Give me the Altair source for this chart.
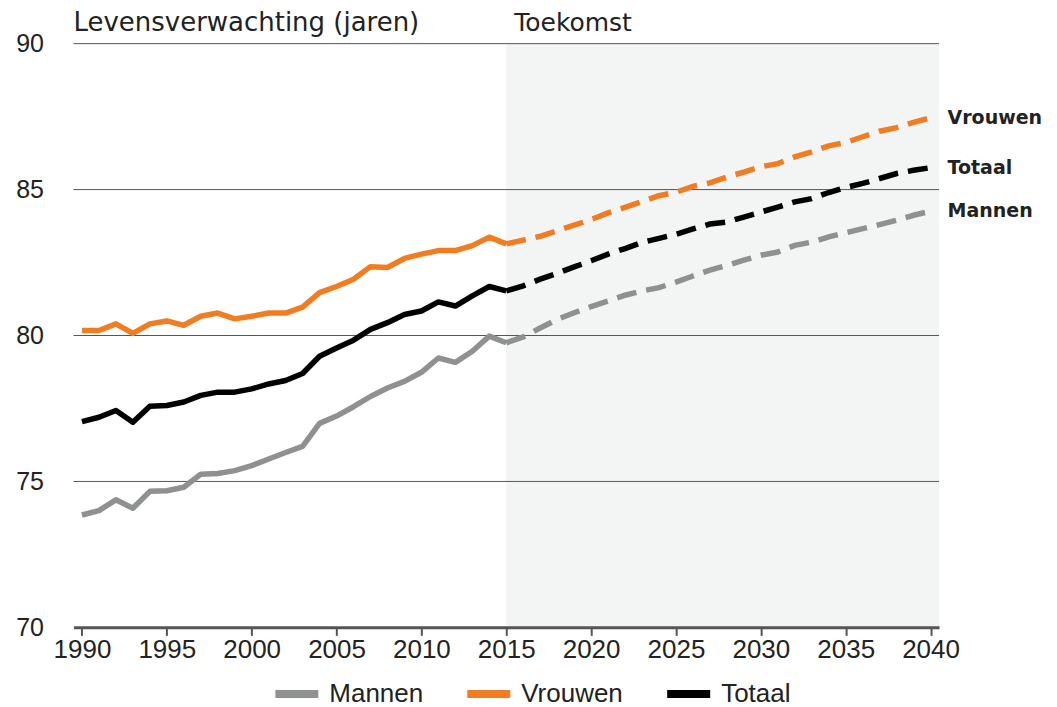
import altair as alt
import pandas as pd

years_hist = list(range(1990, 2016))
mannen_hist = [73.85, 74.0, 74.37, 74.08, 74.66, 74.68, 74.8, 75.25, 75.27, 75.37, 75.54, 75.77, 75.99, 76.2,
               76.99, 77.24, 77.56, 77.91, 78.2, 78.43, 78.74, 79.23, 79.08, 79.46, 79.98, 79.75]
vrouwen_hist = [80.17, 80.17, 80.4, 80.07, 80.4, 80.5, 80.35, 80.66, 80.77, 80.57, 80.66, 80.77, 80.77, 80.97,
                81.47, 81.68, 81.93, 82.36, 82.33, 82.64, 82.79, 82.91, 82.91, 83.08, 83.37, 83.14]
totaal_hist = [77.05, 77.2, 77.43, 77.03, 77.58, 77.6, 77.72, 77.95, 78.06, 78.06, 78.17, 78.34, 78.46, 78.7,
               79.29, 79.57, 79.84, 80.21, 80.44, 80.72, 80.84, 81.15, 81.01, 81.36, 81.68, 81.53]

years_fc = list(range(2015, 2041))
mannen_fc = [79.75, 79.95, 80.26, 80.55, 80.78, 80.99, 81.18, 81.38, 81.53, 81.64, 81.83, 82.04, 82.24,
             82.4, 82.58, 82.75, 82.86, 83.09, 83.2, 83.38, 83.52, 83.66, 83.8, 83.95, 84.12, 84.26]
vrouwen_fc = [83.14, 83.27, 83.4, 83.59, 83.78, 83.97, 84.2, 84.39, 84.59, 84.79, 84.91, 85.11, 85.23,
              85.43, 85.6, 85.78, 85.89, 86.12, 86.29, 86.5, 86.61, 86.81, 87.0, 87.12, 87.3, 87.46]
totaal_fc = [81.53, 81.7, 81.93, 82.13, 82.35, 82.56, 82.79, 82.98, 83.19, 83.33, 83.47, 83.65, 83.82,
             83.89, 84.06, 84.23, 84.4, 84.58, 84.69, 84.9, 85.07, 85.21, 85.38, 85.55, 85.66, 85.75]

series_names = ["Mannen", "Vrouwen", "Totaal"]
series_colors = ["#8f9191", "#f07d22", "#000000"]
y_ticks = [70, 75, 80, 85, 90]
x_ticks = list(range(1990, 2041, 5))
future_start, future_end = 2015, 2040.5
title_text = "Levensverwachting (jaren)"
future_text = "Toekomst"

hist_rows = []
for name, vals in zip(series_names, [mannen_hist, vrouwen_hist, totaal_hist]):
    for yr, v in zip(years_hist, vals):
        hist_rows.append({"jaar": yr, "waarde": v, "reeks": name})
hist = pd.DataFrame(hist_rows)

fc_rows = []
for name, vals in zip(series_names, [mannen_fc, vrouwen_fc, totaal_fc]):
    for yr, v in zip(years_fc, vals):
        fc_rows.append({"jaar": yr, "waarde": v, "reeks": name})
fc = pd.DataFrame(fc_rows)

ends = fc[fc["jaar"] == 2040]
shade = pd.DataFrame({"start": [future_start], "end": [future_end]})
grid = pd.DataFrame({"y": y_ticks[1:]})

W, H = 866, 584
FONT = "Liberation Sans"
TFONT = "DejaVu Sans"

xscale = alt.Scale(domain=[1989.5, 2040.5], nice=False, zero=False)
yscale = alt.Scale(domain=[70, 90], nice=False, zero=False)
cscale = alt.Scale(domain=series_names, range=series_colors)

xaxis = alt.Axis(values=x_ticks, format="d", title=None, grid=False, domainColor="#555555",
                 domainWidth=3, tickColor="#555555", tickWidth=2, tickSize=8, labelFont=FONT,
                 labelFontSize=26, labelColor="#222222", labelPadding=1, zindex=1)
yaxis = alt.Axis(values=y_ticks, title=None, grid=False, domain=False, ticks=False, labelFont=FONT,
                 labelFontSize=25, labelColor="#222222", labelPadding=30)

bg = alt.Chart(shade).mark_rect(color="#f3f4f4").encode(
    x=alt.X("start:Q", scale=xscale, axis=xaxis),
    x2="end:Q",
    y=alt.value(0),
    y2=alt.value(H),
)

gridlines = alt.Chart(grid).mark_rule(color="#555555", strokeWidth=1).encode(
    y=alt.Y("y:Q", scale=yscale, axis=yaxis)
)

hist_line = alt.Chart(hist).mark_line(strokeWidth=5.5, strokeJoin="round").encode(
    x=alt.X("jaar:Q", scale=xscale, axis=xaxis),
    y=alt.Y("waarde:Q", scale=yscale, axis=yaxis),
    color=alt.Color("reeks:N", scale=cscale, sort=series_names,
                    legend=alt.Legend(title=None, orient="none", direction="horizontal",
                                      legendX=198, legendY=625, symbolType="stroke",
                                      symbolSize=1849, symbolStrokeWidth=8, labelFont=FONT,
                                      labelFontSize=26, labelColor="#222222", labelOffset=7,
                                      columnPadding=28)),
)

fc_line = alt.Chart(fc).mark_line(strokeWidth=5.5, strokeDash=[20, 10]).encode(
    x=alt.X("jaar:Q", scale=xscale),
    y=alt.Y("waarde:Q", scale=yscale),
    color=alt.Color("reeks:N", scale=cscale, sort=series_names, legend=None),
)

end_labels = alt.Chart(ends).mark_text(align="left", baseline="middle", dx=17, font=TFONT,
                                       fontSize=19, fontWeight="bold", color="#222222").encode(
    x=alt.X("jaar:Q", scale=xscale),
    y=alt.Y("waarde:Q", scale=yscale),
    text="reeks:N",
)

toekomst = alt.Chart(shade).mark_text(align="left", baseline="alphabetic", dx=8, font=TFONT,
                                      fontSize=25, color="#222222").encode(
    x=alt.X("start:Q", scale=xscale),
    y=alt.value(-13),
    text=alt.value(future_text),
)

title = alt.Chart(shade).mark_text(align="left", baseline="alphabetic", font=TFONT,
                                   fontSize=26, color="#222222").encode(
    x=alt.value(0),
    y=alt.value(-13),
    text=alt.value(title_text),
)

chart = alt.layer(bg, gridlines, hist_line, fc_line, end_labels, toekomst, title).properties(
    width=W,
    height=H,
    padding={"left": 65.5, "top": 35.5, "right": 110, "bottom": 80},
    autosize=alt.AutoSizeParams(type="none"),
).configure_view(stroke=None)

chart.save("out.html", embed_options={"renderer": "svg", "actions": False})
